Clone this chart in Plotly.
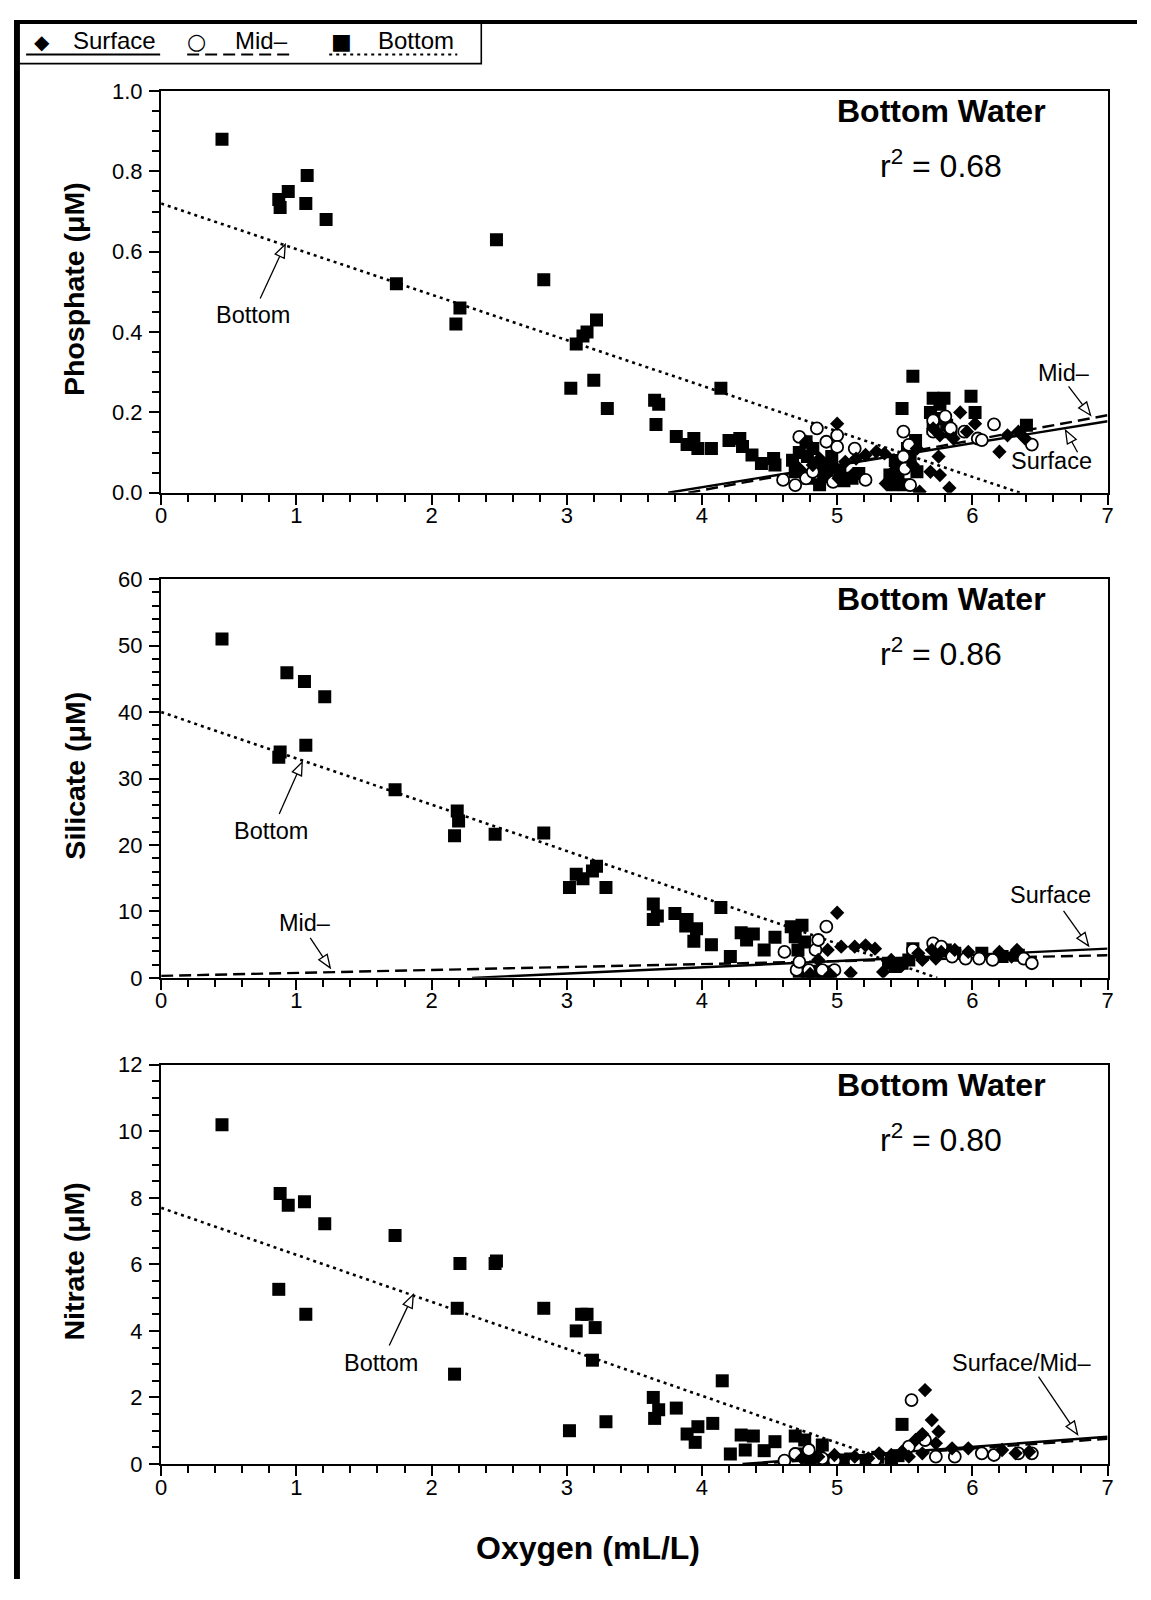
import math
import plotly.graph_objects as go

W, H = 1151, 1600              # target screenshot size
OFF = 8                        # browser body margin on every side
WF, HF = W - 2 * OFF, H - 2 * OFF  # figure size so the page never overflows the window
FONT = "Liberation Sans, Arial, Helvetica, sans-serif"
# measured placement correction of the photographed page (screen = A * wanted + B)
AX, BX, AY, BY = 0.989, 6.0, 0.985, 10.5

# ---------------- data ----------------
oxygen_range = [0, 7]

# Phosphate (uM) vs oxygen (mL/L)
phos_bottom_o2 = [0.45, 0.87, 0.88, 0.94, 1.07, 1.08, 1.22, 1.74, 2.18, 2.21, 2.48, 2.83, 3.03, 3.07, 3.12, 3.15,
                  3.20, 3.22, 3.30, 3.65, 3.66, 3.68, 3.81, 3.89, 3.94, 3.97, 4.07, 4.14, 4.20, 4.28, 4.30, 4.37,
                  4.44, 4.53, 4.54, 4.67, 4.69, 4.72, 4.77, 4.78, 4.79, 4.82, 4.85, 4.87, 4.90, 4.94, 4.96, 5.02,
                  5.05, 5.11, 5.16, 5.39, 5.41, 5.43, 5.45, 5.46, 5.48, 5.50, 5.52, 5.54, 5.56, 5.58, 5.59, 5.69,
                  5.71, 5.71, 5.74, 5.76, 5.79, 5.81, 5.84, 5.99, 6.02, 6.40]
phos_bottom = [0.88, 0.73, 0.71, 0.75, 0.72, 0.79, 0.68, 0.52, 0.42, 0.46, 0.63, 0.53, 0.26, 0.37, 0.39, 0.40,
               0.28, 0.43, 0.21, 0.23, 0.17, 0.22, 0.14, 0.12, 0.135, 0.11, 0.11, 0.26, 0.13, 0.135, 0.115, 0.094,
               0.073, 0.085, 0.069, 0.081, 0.052, 0.10, 0.127, 0.09, 0.036, 0.11, 0.06, 0.02, 0.04, 0.07, 0.09, 0.052,
               0.03, 0.036, 0.048, 0.044, 0.02, 0.08, 0.04, 0.069, 0.21, 0.02, 0.11, 0.085, 0.29, 0.13, 0.052, 0.20,
               0.235, 0.16, 0.185, 0.22, 0.235, 0.168, 0.152, 0.24, 0.20, 0.168]
phos_mid_o2 = [4.60, 4.69, 4.72, 4.77, 4.82, 4.85, 4.92, 4.97, 5.00, 5.00, 5.13, 5.21, 5.49, 5.49, 5.50, 5.53,
               5.54, 5.71, 5.71, 5.80, 5.84, 5.94, 6.04, 6.07, 6.16, 6.44]
phos_mid = [0.032, 0.019, 0.139, 0.036, 0.052, 0.16, 0.127, 0.027, 0.143, 0.114, 0.11, 0.032, 0.152, 0.09, 0.06,
            0.119, 0.019, 0.18, 0.152, 0.19, 0.16, 0.152, 0.135, 0.131, 0.17, 0.12]
phos_surface_o2 = [4.72, 4.77, 4.82, 4.87, 4.94, 4.97, 5.00, 5.01, 5.06, 5.11, 5.14, 5.21, 5.29, 5.35, 5.36, 5.41,
                   5.56, 5.59, 5.61, 5.69, 5.71, 5.75, 5.76, 5.76, 5.83, 5.86, 5.91, 5.96, 6.02, 6.20, 6.26, 6.34,
                   6.39]
phos_surface = [0.06, 0.127, 0.069, 0.085, 0.052, 0.069, 0.172, 0.036, 0.077, 0.044, 0.085, 0.094, 0.102, 0.098,
                0.023, 0.052, 0.069, 0.11, 0.0025, 0.052, 0.16, 0.09, 0.044, 0.143, 0.012, 0.135, 0.20, 0.152, 0.172,
                0.102, 0.143, 0.152, 0.135]
phos_fit_bottom_x, phos_fit_bottom_y = [0, 6.35], [0.72, 0.0]
phos_fit_surface_x, phos_fit_surface_y = [3.75, 7], [0.0, 0.178]
phos_fit_mid_x, phos_fit_mid_y = [3.9, 7], [0.0, 0.193]

# Silicate (uM)
sil_bottom_o2 = [0.45, 0.87, 0.88, 0.93, 1.06, 1.07, 1.21, 1.73, 2.17, 2.19, 2.20, 2.47, 2.83, 3.02, 3.07, 3.12,
                 3.19, 3.22, 3.29, 3.64, 3.64, 3.67, 3.80, 3.88, 3.89, 3.94, 3.96, 4.07, 4.14, 4.21, 4.29, 4.33,
                 4.38, 4.46, 4.54, 4.66, 4.69, 4.71, 4.74, 4.76, 4.72, 4.78, 4.82, 4.86, 4.90, 4.95, 5.38, 5.43,
                 5.48, 5.53, 5.56, 5.73, 5.80, 5.87, 6.07, 6.22, 6.34]
sil_bottom = [51.0, 33.2, 34.0, 45.9, 44.6, 35.0, 42.3, 28.3, 21.4, 25.1, 23.6, 21.6, 21.8, 13.6, 15.6, 14.9,
              16.1, 16.8, 13.6, 11.1, 8.8, 9.3, 9.7, 7.8, 8.8, 5.5, 7.4, 5.0, 10.6, 3.2, 6.8, 5.7,
              6.6, 4.2, 6.1, 7.7, 6.2, 4.2, 7.9, 5.4, 0.8, 0.5, 1.0, 0.6, 0.9, 0.4, 2.2, 1.7,
              2.2, 2.7, 4.4, 4.7, 4.2, 3.7, 3.7, 3.2, 3.4]
sil_mid_o2 = [4.61, 4.70, 4.72, 4.79, 4.84, 4.86, 4.89, 4.92, 4.98, 5.56, 5.71, 5.77, 5.85, 5.95, 6.05, 6.15, 6.38,
              6.44]
sil_mid = [3.9, 1.2, 2.4, 1.15, 4.2, 5.7, 1.15, 7.7, 1.15, 4.2, 5.2, 4.7, 3.2, 2.9, 2.9, 2.7, 2.9, 2.2]
sil_surface_o2 = [4.86, 4.93, 5.00, 5.03, 5.10, 5.13, 5.21, 5.28, 5.34, 5.40, 5.48, 5.60, 5.63, 5.70, 5.73, 5.77,
                  5.87, 5.97, 6.20, 6.29, 6.33, 4.80, 4.95]
sil_surface = [2.7, 4.2, 9.8, 4.7, 0.75, 4.7, 4.9, 4.4, 0.9, 2.7, 1.9, 3.7, 2.7, 4.2, 2.9, 3.9,
               4.2, 3.9, 3.9, 3.2, 4.2, 0.6, 0.5]
sil_fit_bottom_x, sil_fit_bottom_y = [0, 5.74], [40.0, 0.0]
sil_fit_surface_x, sil_fit_surface_y = [2.3, 7], [0.0, 4.4]
sil_fit_mid_x, sil_fit_mid_y = [0, 7], [0.3, 3.4]

# Nitrate (uM)
nit_bottom_o2 = [0.45, 0.87, 0.88, 0.94, 1.06, 1.07, 1.21, 1.73, 2.17, 2.19, 2.21, 2.47, 2.48, 2.83, 3.02, 3.07,
                 3.11, 3.15, 3.19, 3.21, 3.29, 3.64, 3.65, 3.68, 3.81, 3.89, 3.95, 3.97, 4.08, 4.15, 4.21, 4.29,
                 4.32, 4.38, 4.46, 4.54, 4.69, 4.76, 4.89, 5.48, 4.72, 4.80, 4.86, 4.93, 5.02, 5.10, 5.20, 5.30,
                 5.40, 5.45]
nit_bottom = [10.2, 5.25, 8.13, 7.78, 7.88, 4.50, 7.22, 6.87, 2.70, 4.68, 6.03, 6.03, 6.1, 4.68, 1.0, 4.0,
              4.5, 4.5, 3.12, 4.1, 1.27, 2.0, 1.37, 1.63, 1.68, 0.9, 0.65, 1.12, 1.22, 2.5, 0.3, 0.87,
              0.42, 0.84, 0.4, 0.67, 0.84, 0.72, 0.57, 1.19, 0.3, 0.15, 0.2, 0.1, 0.12, 0.15, 0.1, 0.2,
              0.15, 0.25]
nit_mid_o2 = [4.61, 4.69, 4.79, 4.89, 4.98, 5.13, 5.28, 5.53, 5.55, 5.65, 5.73, 5.87, 6.07, 6.16, 6.34, 6.44]
nit_mid = [0.1, 0.3, 0.42, 0.17, 0.1, 0.07, 0.12, 0.52, 1.92, 0.72, 0.22, 0.22, 0.32, 0.27, 0.32, 0.32]
nit_surface_o2 = [4.74, 4.86, 4.98, 5.13, 5.23, 5.31, 5.40, 5.48, 5.53, 5.58, 5.63, 5.63, 5.65, 5.70, 5.73, 5.75,
                  5.85, 5.97, 6.22, 6.32, 6.42]
nit_surface = [0.17, 0.22, 0.27, 0.22, 0.17, 0.32, 0.27, 0.37, 0.22, 0.72, 0.9, 0.32, 2.22, 1.32, 0.62, 0.97,
               0.47, 0.47, 0.42, 0.32, 0.37]
nit_fit_bottom_x, nit_fit_bottom_y = [0, 5.45], [7.7, 0.0]
nit_fit_surface_x, nit_fit_surface_y = [4.3, 7], [0.0, 0.82]
nit_fit_mid_x, nit_fit_mid_y = [4.4, 7], [0.0, 0.76]

y_titles = ["Phosphate (μM)", "Silicate (μM)", "Nitrate (μM)"]
y_ranges = [[0, 1.0], [0, 60], [0, 12]]
y_dticks = [0.2, 10, 2]
y_minor = [0.05, 2, 0.5]
y_formats = [".1f", "d", "d"]
r2_values = ["0.68", "0.86", "0.80"]
legend_names = ["Surface", "Mid–", "Bottom"]

# ---------------- layout geometry (wanted screen pixels) ----------------
panels = [
    dict(x0=161, x1=1107, ytop=89.5, ybot=491.5),
    dict(x0=161, x1=1107, ytop=578, ybot=977),
    dict(x0=161, x1=1107, ytop=1064, ybot=1463.5),
]


def pp(x, y):
    """wanted screen pixel -> paper fraction"""
    xs = max((x - BX) / AX, OFF)
    ys = max((y - BY) / AY, OFF)
    return (xs - OFF) / WF, 1 - (ys - OFF) / HF


fig = go.Figure()

series = [
    (phos_bottom_o2, phos_bottom, phos_mid_o2, phos_mid, phos_surface_o2, phos_surface,
     (phos_fit_bottom_x, phos_fit_bottom_y), (phos_fit_surface_x, phos_fit_surface_y), (phos_fit_mid_x, phos_fit_mid_y)),
    (sil_bottom_o2, sil_bottom, sil_mid_o2, sil_mid, sil_surface_o2, sil_surface,
     (sil_fit_bottom_x, sil_fit_bottom_y), (sil_fit_surface_x, sil_fit_surface_y), (sil_fit_mid_x, sil_fit_mid_y)),
    (nit_bottom_o2, nit_bottom, nit_mid_o2, nit_mid, nit_surface_o2, nit_surface,
     (nit_fit_bottom_x, nit_fit_bottom_y), (nit_fit_surface_x, nit_fit_surface_y), (nit_fit_mid_x, nit_fit_mid_y)),
]

for i, s in enumerate(series):
    xa = "x" if i == 0 else f"x{i + 1}"
    ya = "y" if i == 0 else f"y{i + 1}"
    bx, by, mx, my, sx, sy, fb, fs, fm = s
    fig.add_trace(go.Scatter(x=fb[0], y=fb[1], mode="lines", xaxis=xa, yaxis=ya, showlegend=False, name="Bottom",
                             line=dict(color="black", width=2.6, dash="3px,4px")))
    fig.add_trace(go.Scatter(x=fs[0], y=fs[1], mode="lines", xaxis=xa, yaxis=ya, showlegend=False, name="Surface",
                             line=dict(color="black", width=2.4)))
    fig.add_trace(go.Scatter(x=fm[0], y=fm[1], mode="lines", xaxis=xa, yaxis=ya, showlegend=False, name="Mid–",
                             line=dict(color="black", width=2.4, dash="12px,6px")))
    fig.add_trace(go.Scatter(x=bx, y=by, mode="markers", xaxis=xa, yaxis=ya, showlegend=False, name="Bottom",
                             marker=dict(symbol="square", size=13, color="black", line=dict(width=0))))
    fig.add_trace(go.Scatter(x=mx, y=my, mode="markers", xaxis=xa, yaxis=ya, showlegend=False, name="Mid–",
                             marker=dict(symbol="circle", size=12, color="white",
                                         line=dict(color="black", width=1.8))))
    fig.add_trace(go.Scatter(x=sx, y=sy, mode="markers", xaxis=xa, yaxis=ya, showlegend=False, name="Surface",
                             marker=dict(symbol="diamond", size=11, color="black", line=dict(width=0))))

layout = dict(
    width=WF, height=HF, margin=dict(l=0, r=0, t=0, b=0),
    paper_bgcolor="white", plot_bgcolor="white", showlegend=False,
    font=dict(family=FONT, color="black", size=22),
)

for i, p in enumerate(panels):
    xk = "xaxis" if i == 0 else f"xaxis{i + 1}"
    yk = "yaxis" if i == 0 else f"yaxis{i + 1}"
    ya = "y" if i == 0 else f"y{i + 1}"
    xa = "x" if i == 0 else f"x{i + 1}"
    xd0, _ = pp(p["x0"], 100)
    xd1, _ = pp(p["x1"], 100)
    _, yd0 = pp(100, p["ybot"])
    _, yd1 = pp(100, p["ytop"])
    layout[xk] = dict(
        domain=[xd0, xd1], anchor=ya, range=oxygen_range, dtick=1, tick0=0,
        showline=True, linewidth=2.4, linecolor="black", mirror=True, showgrid=False, zeroline=False,
        ticks="outside", ticklen=10, tickwidth=2, tickcolor="black", ticklabelstandoff=-8,
        tickfont=dict(family=FONT, size=22, color="black"),
        minor=dict(dtick=0.2, ticks="outside", ticklen=7, tickwidth=1.6, tickcolor="black", showgrid=False),
    )
    layout[yk] = dict(
        domain=[yd0, yd1], anchor=xa, range=y_ranges[i], dtick=y_dticks[i], tick0=0, tickformat=y_formats[i],
        showline=True, linewidth=2.4, linecolor="black", mirror=True, showgrid=False, zeroline=False,
        ticks="outside", ticklen=10, tickwidth=2, tickcolor="black", ticklabelstandoff=2,
        tickfont=dict(family=FONT, size=22, color="black"),
        minor=dict(dtick=y_minor[i], ticks="outside", ticklen=7, tickwidth=1.6, tickcolor="black",
                   showgrid=False),
    )

fig.update_layout(**layout)

annotations = []
shapes = []

# Panel headings and y titles
for i, p in enumerate(panels):
    cx = 941
    x, y = pp(cx, p["ytop"] + 20)
    annotations.append(dict(x=x, y=y, xref="paper", yref="paper", text="<b>Bottom Water</b>",
                            showarrow=False, font=dict(family=FONT, size=32), xanchor="center", yanchor="middle"))
    x, y = pp(cx, p["ytop"] + 73)
    annotations.append(dict(x=x, y=y, xref="paper", yref="paper", text=f"r<sup>2</sup> = {r2_values[i]}",
                            showarrow=False, font=dict(family=FONT, size=32), xanchor="center", yanchor="middle"))
    x, y = pp(74, (p["ytop"] + p["ybot"]) / 2 - 3)
    annotations.append(dict(x=x, y=y, xref="paper", yref="paper", text=f"<b>{y_titles[i]}</b>",
                            showarrow=False, textangle=-90, font=dict(family=FONT, size=28.5),
                            xanchor="center", yanchor="middle"))

# x title
x, y = pp(588, 1548)
annotations.append(dict(x=x, y=y, xref="paper", yref="paper", text="<b>Oxygen (mL/L)</b>", showarrow=False,
                        font=dict(family=FONT, size=32), xanchor="center", yanchor="middle"))

# Line labels with hollow arrowheads: (text, label centre, tail, tip) in wanted screen pixels
line_labels = [
    ("Bottom", (253, 314), (260, 297), (285, 243)),
    ("Mid–", (1063, 372), (1068, 385), (1090, 414)),
    ("Surface", (1051, 460), (1077, 451), (1065, 429)),
    ("Bottom", (271, 830), (279, 813), (302, 761)),
    ("Mid–", (305, 922), (310, 937), (330, 967)),
    ("Surface", (1050, 894), (1063, 910), (1088, 945)),
    ("Bottom", (381, 1362), (389, 1345), (413, 1294)),
    ("Surface/Mid–", (1021, 1362), (1038, 1376), (1077, 1434)),
]


def arrow_shapes(tail, tip, L=13.0, hw=5.0):
    tx, ty = tail
    hx, hy = tip
    dx, dy = hx - tx, hy - ty
    d = math.hypot(dx, dy)
    ux, uy = dx / d, dy / d
    bx, by = hx - ux * L, hy - uy * L
    nx, ny = -uy, ux
    p1 = (bx + nx * hw, by + ny * hw)
    p2 = (bx - nx * hw, by - ny * hw)
    a = pp(tx, ty)
    b = pp(bx, by)
    out = [dict(type="line", xref="paper", yref="paper", x0=a[0], y0=a[1], x1=b[0], y1=b[1],
                line=dict(color="black", width=1.3))]
    pts = [pp(hx, hy), pp(*p1), pp(*p2)]
    path = "M {} {} L {} {} L {} {} Z".format(pts[0][0], pts[0][1], pts[1][0], pts[1][1], pts[2][0], pts[2][1])
    out.append(dict(type="path", xref="paper", yref="paper", path=path, fillcolor="white",
                    line=dict(color="black", width=1.3)))
    return out


for text, c, tail, tip in line_labels:
    x, y = pp(*c)
    annotations.append(dict(x=x, y=y, xref="paper", yref="paper", text=text, showarrow=False,
                            font=dict(family=FONT, size=23.5), xanchor="center", yanchor="middle"))
    shapes.extend(arrow_shapes(tail, tip))

# Legend box (drawn manually)
a = pp(18, 21)
b = pp(481, 62)
shapes.append(dict(type="rect", xref="paper", yref="paper", x0=a[0], y0=a[1], x1=b[0], y1=b[1],
                   line=dict(color="black", width=1.6), fillcolor="white", layer="below"))
legend_items = [
    ("◆", 42, 20, legend_names[0], 114, (26, 160), "solid"),
    ("○", 196, 22, legend_names[1], 261, (187, 290), "12px,6px"),
    ("■", 341, 22, legend_names[2], 416, (329, 457), "3px,4px"),
]
for glyph, gx, gs, name, tx, (u0, u1), dash in legend_items:
    x, y = pp(gx, 40)
    annotations.append(dict(x=x, y=y, xref="paper", yref="paper", text=glyph, showarrow=False,
                            font=dict(family="DejaVu Sans", size=gs), xanchor="center", yanchor="middle"))
    x, y = pp(tx, 39)
    annotations.append(dict(x=x, y=y, xref="paper", yref="paper", text=name, showarrow=False,
                            font=dict(family=FONT, size=24), xanchor="center", yanchor="middle"))
    a = pp(u0, 53)
    b = pp(u1, 53)
    shapes.append(dict(type="line", xref="paper", yref="paper", x0=a[0], y0=a[1], x1=b[0], y1=b[1],
                       line=dict(color="black", width=2, dash=dash)))

# Outer scan frame (thick top and left edges)
a = pp(0, 0)
shapes.append(dict(type="rect", xref="paper", yref="paper", x0=a[0], y0=1, x1=1, y1=1 - 4 / HF,
                   line=dict(width=0), fillcolor="black"))
shapes.append(dict(type="rect", xref="paper", yref="paper", x0=a[0], y0=1, x1=a[0] + 6 / WF, y1=0,
                   line=dict(width=0), fillcolor="black"))

fig.update_layout(annotations=annotations, shapes=shapes)

fig.write_html("out.html", config={"displayModeBar": False})
